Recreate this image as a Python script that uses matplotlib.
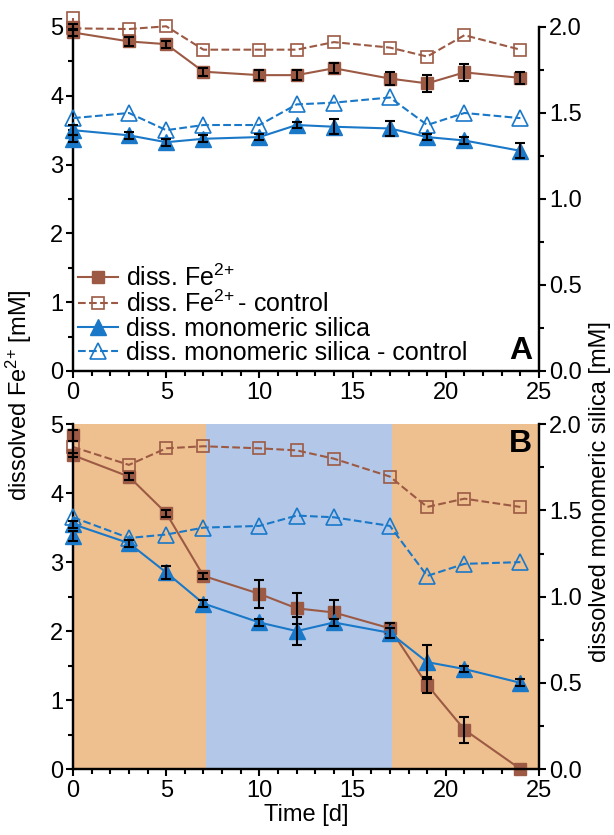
import numpy as np
import matplotlib
matplotlib.use("Agg")
import matplotlib.pyplot as plt
from matplotlib.ticker import MultipleLocator, FormatStrFormatter
from matplotlib.lines import Line2D

plt.rcParams['font.family'] = ['Liberation Sans', 'DejaVu Sans']
plt.rcParams['mathtext.fontset'] = 'custom'
plt.rcParams['mathtext.rm'] = 'Liberation Sans'
plt.rcParams['mathtext.it'] = 'Liberation Sans:italic'

# time points [d] (two measurements at day 0 where two markers show)
t2 = [0, 0, 3, 5, 7, 10, 12, 14, 17, 19, 21, 24]
t1 = [0, 3, 5, 7, 10, 12, 14, 17, 19, 21, 24]

# panel A - dissolved Fe2+ [mM]
fe_a = [5.00, 4.92, 4.79, 4.75, 4.35, 4.30, 4.30, 4.40, 4.25, 4.18, 4.34, 4.26]
fe_a_err = [0.05, 0.05, 0.07, 0.05, 0.06, 0.07, 0.07, 0.07, 0.10, 0.12, 0.12, 0.09]
fe_a_ctrl = [5.13, 4.98, 4.97, 5.01, 4.67, 4.67, 4.67, 4.78, 4.70, 4.57, 4.88, 4.67]
# panel A - dissolved monomeric silica [mM]
si_a = [1.35, 1.40, 1.37, 1.33, 1.35, 1.36, 1.43, 1.42, 1.41, 1.36, 1.34, 1.28]
si_a_err = [0.02, 0.03, 0.02, 0.02, 0.02, 0.02, 0.02, 0.044, 0.044, 0.02, 0.02, 0.044]
si_a_ctrl = [1.47, 1.50, 1.40, 1.43, 1.43, 1.55, 1.56, 1.59, 1.43, 1.50, 1.47]

# panel B
fe_b = [4.84, 4.55, 4.24, 3.71, 2.80, 2.54, 2.33, 2.27, 2.04, 1.22, 0.57, 0.0]
fe_b_err = [0.08, 0.03, 0.05, 0.05, 0.04, 0.20, 0.22, 0.18, 0.08, 0.12, 0.19, 0.0]
fe_b_ctrl = [4.67, 4.41, 4.65, 4.68, 4.65, 4.62, 4.50, 4.24, 3.80, 3.92, 3.80]
si_b = [1.35, 1.42, 1.31, 1.14, 0.96, 0.85, 0.80, 0.85, 0.79, 0.62, 0.58, 0.50]
si_b_err = [0.03, 0.02, 0.02, 0.04, 0.02, 0.02, 0.08, 0.02, 0.03, 0.10, 0.02, 0.02]
si_b_ctrl = [1.46, 1.34, 1.36, 1.40, 1.41, 1.47, 1.46, 1.41, 1.12, 1.19, 1.20]

# light phases shading in panel B
phases = [(0, 7.15, '#efc08f'), (7.15, 17.1, '#b3c8e8'), (17.1, 25, '#efc08f')]

brown = '#9c5a44'
blue = '#1a78c8'
lw = 1.5
ms_sq = 9
ms_tri = 11


def style(ax, ax2):
    ax.set_xlim(0, 25)
    ax.set_ylim(0, 5)
    ax2.set_ylim(0, 2)
    for a in (ax, ax2):
        a.spines['top'].set_visible(False)
        for s in ('left', 'right', 'bottom'):
            a.spines[s].set_linewidth(1.6)
        a.tick_params(which='major', length=5, width=1.5, labelsize=17, direction='out')
        a.tick_params(which='minor', length=3.5, width=1.5, direction='out')
    ax.xaxis.set_major_locator(MultipleLocator(5))
    ax.xaxis.set_minor_locator(MultipleLocator(1))
    ax.yaxis.set_major_locator(MultipleLocator(1))
    ax.yaxis.set_minor_locator(MultipleLocator(0.5))
    ax2.yaxis.set_major_locator(MultipleLocator(0.5))
    ax2.yaxis.set_minor_locator(MultipleLocator(0.25))
    ax2.yaxis.set_major_formatter(FormatStrFormatter('%.1f'))
    ax.tick_params(axis='x', pad=3)
    ax.tick_params(axis='y', pad=2)
    ax2.tick_params(axis='y', pad=2)


def draw(ax, fe_ctrl_t, fe, fe_err, fe_ctrl, si, si_err, si_ctrl):
    ax2 = ax.twinx()
    ax.plot(fe_ctrl_t, fe_ctrl, ls='--', lw=lw, color=brown, marker='s', ms=ms_sq,
            mfc='none', mec=brown, mew=1.2, clip_on=False, zorder=3)
    ax.plot(t2, fe, ls='-', lw=lw, color=brown, marker='s', ms=ms_sq, mfc=brown,
            mec=brown, clip_on=False, zorder=3)
    ax.errorbar(t2, fe, yerr=fe_err, fmt='none', ecolor='black', elinewidth=1.5,
                capsize=3.5, capthick=1.5, zorder=4, clip_on=False)
    ax2.plot(t1, si_ctrl, ls='--', lw=lw, color=blue, marker='^', ms=ms_tri,
             mfc='none', mec=blue, mew=1.2, clip_on=False, zorder=3)
    ax2.plot(t2, si, ls='-', lw=lw, color=blue, marker='^', ms=ms_tri, mfc=blue,
             mec=blue, clip_on=False, zorder=3)
    ax2.errorbar(t2, si, yerr=si_err, fmt='none', ecolor='black', elinewidth=1.5,
                 capsize=3.5, capthick=1.5, zorder=4, clip_on=False)
    style(ax, ax2)
    return ax2


fig = plt.figure(figsize=(6.14, 8.35), dpi=100)
ax_a = fig.add_axes([0.1189, 0.5557, 0.759, 0.412])
ax_b = fig.add_axes([0.1189, 0.0790, 0.759, 0.413])

ax2_a = draw(ax_a, t2, fe_a, fe_a_err, fe_a_ctrl, si_a, si_a_err, si_a_ctrl)

for x0, x1, c in phases:
    ax_b.axvspan(x0, x1, color=c, lw=0, zorder=0)
ax2_b = draw(ax_b, t1, fe_b, fe_b_err, fe_b_ctrl, si_b, si_b_err, si_b_ctrl)

ax_a.text(0.985, 0.015, 'A', transform=ax_a.transAxes, ha='right', va='bottom',
          fontsize=23, fontweight='bold')
ax2_b.text(0.985, 0.985, 'B', transform=ax_b.transAxes, ha='right', va='top',
           fontsize=23, fontweight='bold', zorder=5)

handles = [
    Line2D([], [], color=brown, lw=lw, marker='s', ms=ms_sq, mfc=brown, mec=brown),
    Line2D([], [], color=brown, lw=lw, ls='--', marker='s', ms=ms_sq, mfc='none', mec=brown, mew=1.2),
    Line2D([], [], color=blue, lw=lw, marker='^', ms=ms_tri, mfc=blue, mec=blue),
    Line2D([], [], color=blue, lw=lw, ls='--', marker='^', ms=ms_tri, mfc='none', mec=blue, mew=1.2),
]
labels = ['diss. Fe$^{2{+}}$', r'diss. Fe$^{2{+}}\,$- control', 'diss. monomeric silica',
          'diss. monomeric silica - control']
ax2_a.legend(handles, labels, loc='lower left', bbox_to_anchor=(-0.01, -0.012),
             frameon=False, fontsize=18, handlelength=1.6, handletextpad=0.3,
             labelspacing=0.0, borderpad=0.2, borderaxespad=0.2, numpoints=1)

fig.text(0.031, 0.527, 'dissolved Fe$^{2{+}}$ [mM]', rotation=90, ha='center',
         va='center', fontsize=17)
fig.text(0.977, 0.411, 'dissolved monomeric silica [mM]', rotation=90, ha='center',
         va='center', fontsize=17)
ax_b.set_xlabel('Time [d]', fontsize=17, labelpad=1)

fig.savefig('out.png', dpi=100)
